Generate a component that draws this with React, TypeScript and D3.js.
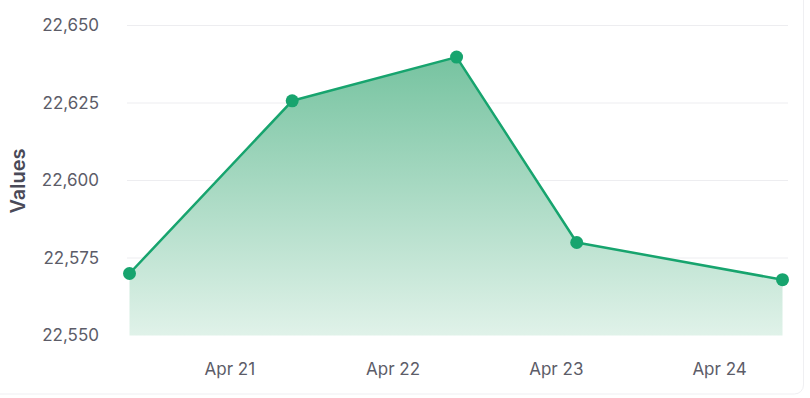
import React from "react";
import * as d3 from "d3";

const times: string[] = [
  "2024-04-20T09:15",
  "2024-04-21T09:10",
  "2024-04-22T09:20",
  "2024-04-23T03:00",
  "2024-04-24T09:15",
];
const values: number[] = [22570, 22625.7, 22639.8, 22580, 22568];
const yTicks: number[] = [22550, 22575, 22600, 22625, 22650];
const xTicks: string[] = ["2024-04-21T00:00", "2024-04-22T00:00", "2024-04-23T00:00", "2024-04-24T00:00"];
const yTitle = "Values";

const W = 810;
const H = 398;
const FONT = "Inter, 'Open Sans', sans-serif";

export default function App() {
  const parse = (s: string) => new Date(s);
  const data = times.map((t, i) => ({ t: parse(t), v: values[i] }));
  const x = d3
    .scaleTime()
    .domain([parse(times[0]), parse(times[times.length - 1])])
    .range([129.5, 782.5]);
  const y = d3.scaleLinear().domain([22550, 22650]).range([335.5, 25.5]);
  const fmtY = d3.format(",");
  const fmtX = d3.timeFormat("%b %-d");

  const line = d3
    .line<{ t: Date; v: number }>()
    .x((d) => x(d.t))
    .y((d) => y(d.v));
  const area = d3
    .area<{ t: Date; v: number }>()
    .x((d) => x(d.t))
    .y0(y(22550))
    .y1((d) => y(d.v));

  const color = "#17a46e";

  return (
    <svg
      width={W}
      height={H}
      style={{ position: "absolute", left: 0, top: 0, background: "#fff" }}
    >
      <defs>
        <linearGradient id="fillGrad" x1="0" y1={y(22640)} x2="0" y2={y(22550)} gradientUnits="userSpaceOnUse">
          <stop offset="0" stopColor="#76c3a0" />
          <stop offset="1" stopColor="#e0f2e9" />
        </linearGradient>
      </defs>
      <rect x={-20} y={-20} width={823.5} height={414} rx={9} fill="#fff" stroke="#efeff2" strokeWidth={1} />
      {yTicks.map((t) => (
        <g key={t}>
          {t !== 22550 && (
            <line x1={127} x2={788} y1={y(t)} y2={y(t)} stroke="#ededf0" strokeWidth={1} />
          )}
          <text
            x={99}
            y={y(t)}
            dy="0.35em"
            textAnchor="end"
            fontFamily={FONT}
            fontSize={17}
            fill="#5c5c68"
          >
            {fmtY(t)}
          </text>
        </g>
      ))}
      <path d={area(data) || ""} fill="url(#fillGrad)" />
      <path d={line(data) || ""} fill="none" stroke={color} strokeWidth={2.5} strokeLinejoin="round" />
      {data.map((d, i) => (
        <circle key={i} cx={x(d.t)} cy={y(d.v)} r={6.5} fill={color} />
      ))}
      {xTicks.map((s) => (
        <text
          key={s}
          x={x(parse(s))}
          y={369}
          dy="0.35em"
          textAnchor="middle"
          fontFamily={FONT}
          fontSize={17}
          fill="#5c5c68"
        >
          {fmtX(parse(s))}
        </text>
      ))}
      <text
        transform={`translate(18,181) rotate(-90)`}
        dy="0.35em"
        textAnchor="middle"
        fontFamily={FONT}
        fontSize={20}
        fontWeight={600}
        fill="#4a4a58"
      >
        {yTitle}
      </text>
    </svg>
  );
}
